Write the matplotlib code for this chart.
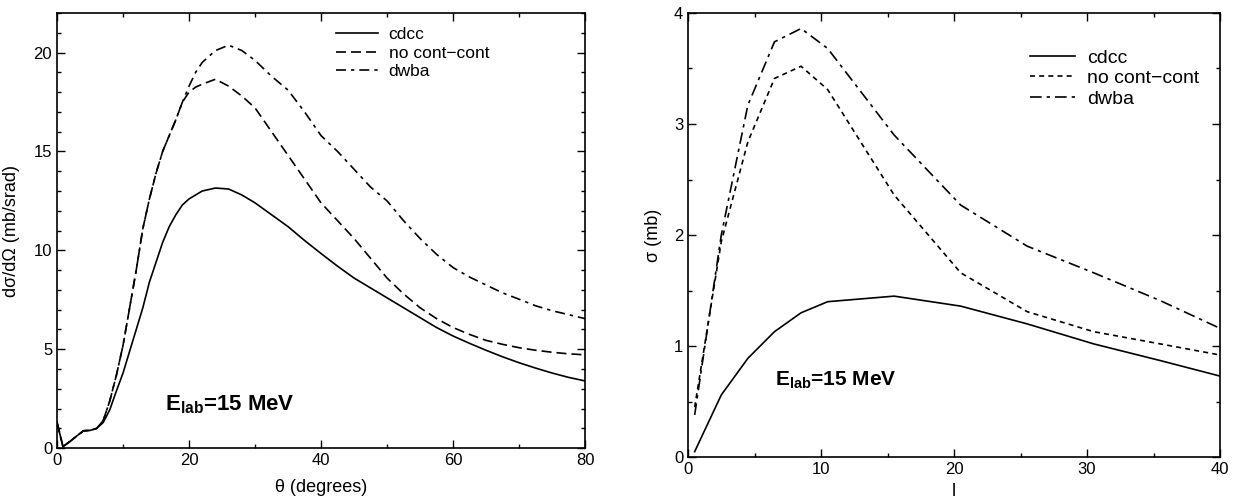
import numpy as np
import matplotlib
matplotlib.use('Agg')
import matplotlib.pyplot as plt
from matplotlib.ticker import MultipleLocator

plt.rcParams['font.family'] = ['Liberation Sans', 'DejaVu Sans']
plt.rcParams['mathtext.fontset'] = 'custom'
plt.rcParams['mathtext.rm'] = 'Liberation Sans'
plt.rcParams['mathtext.bf'] = 'Liberation Sans:bold'

# left panel: angular distribution
theta = [0, 0.9, 2, 3, 4, 5, 6, 7, 8, 9, 10, 11, 12, 13, 14, 15, 16, 17, 18, 19, 20, 21,
         22, 24, 26, 28, 30, 32.5, 35, 37.5, 40, 42.5, 45, 47.5, 50, 52.5, 55, 57.5, 60,
         62.5, 65, 67.5, 70, 72.5, 75, 77.5, 80]
cdcc_ang = [1.3, 0.08, 0.35, 0.62, 0.88, 0.9, 1.0, 1.3, 1.95, 2.9, 3.8, 4.9, 6.0, 7.1, 8.4,
            9.4, 10.4, 11.2, 11.8, 12.3, 12.6, 12.8, 13.0, 13.15, 13.1, 12.8, 12.4, 11.8,
            11.2, 10.5, 9.84, 9.2, 8.6, 8.1, 7.6, 7.1, 6.6, 6.1, 5.67, 5.3, 4.95, 4.62, 4.32,
            4.05, 3.8, 3.58, 3.4]
nocc_ang = [1.3, 0.08, 0.35, 0.62, 0.88, 0.9, 1.0, 1.4, 2.4, 3.7, 5.2, 7.1, 9.0, 11.1, 12.6,
            13.9, 15.0, 15.8, 16.6, 17.5, 18.0, 18.25, 18.4, 18.65, 18.3, 17.8, 17.2, 16.0,
            14.8, 13.6, 12.4, 11.5, 10.6, 9.6, 8.6, 7.8, 7.1, 6.55, 6.1, 5.75, 5.45, 5.25,
            5.08, 4.95, 4.85, 4.77, 4.72]
dwba_ang = [1.3, 0.08, 0.35, 0.62, 0.88, 0.9, 1.0, 1.4, 2.4, 3.7, 5.2, 7.1, 9.0, 11.1, 12.6,
            13.9, 15.0, 15.8, 16.6, 17.5, 18.3, 19.0, 19.5, 20.1, 20.37, 20.1, 19.6, 18.8,
            18.1, 17.0, 15.8, 15.0, 14.1, 13.2, 12.5, 11.5, 10.6, 9.8, 9.13, 8.65, 8.25,
            7.85, 7.53, 7.2, 6.95, 6.75, 6.55]

# right panel: partial-wave distribution
ell = [0.5, 2.5, 4.5, 6.5, 8.5, 10.5, 15.5, 20.5, 25.5, 30.5, 35.5, 40]
cdcc_l = [0.05, 0.56, 0.89, 1.13, 1.30, 1.40, 1.45, 1.36, 1.20, 1.02, 0.87, 0.73]
nocc_l = [0.45, 1.94, 2.84, 3.41, 3.52, 3.31, 2.36, 1.66, 1.31, 1.13, 1.02, 0.92]
dwba_l = [0.38, 2.0, 3.17, 3.74, 3.86, 3.68, 2.90, 2.27, 1.90, 1.66, 1.41, 1.16]

fig = plt.figure(figsize=(12.48, 4.98), dpi=100)
ax1 = fig.add_axes([0.0457, 0.100, 0.4231, 0.874])
ax2 = fig.add_axes([0.5513, 0.082, 0.4263, 0.892])

lw = 1.2
ax1.plot(theta, cdcc_ang, '-', color='black', lw=lw, label='cdcc')
ax1.plot(theta, nocc_ang, color='black', lw=lw, dashes=(6, 3), label='no cont\u2212cont')
ax1.plot(theta, dwba_ang, color='black', lw=lw, dashes=(6, 3, 2, 3), label='dwba')

ax2.plot(ell, cdcc_l, '-', color='black', lw=lw, label='cdcc')
ax2.plot(ell, nocc_l, color='black', lw=lw, dashes=(3, 2.5), label='no cont\u2212cont')
ax2.plot(ell, dwba_l, color='black', lw=lw, dashes=(7, 3, 2, 3), label='dwba')

ax1.set_xlim(0, 80)
ax1.set_ylim(0, 22)
ax1.xaxis.set_major_locator(MultipleLocator(20))
ax1.xaxis.set_minor_locator(MultipleLocator(10))
ax1.yaxis.set_major_locator(MultipleLocator(5))
ax1.yaxis.set_minor_locator(MultipleLocator(1))
ax1.set_xlabel('\u03b8 (degrees)', fontsize=13)
ax1.set_ylabel('d\u03c3/d\u03a9 (mb/srad)', fontsize=13)
ax1.xaxis.set_label_coords(0.5, -0.071)
ax1.yaxis.set_label_coords(-0.07, 0.5)

ax2.set_xlim(0, 40)
ax2.set_ylim(0, 4)
ax2.xaxis.set_major_locator(MultipleLocator(10))
ax2.xaxis.set_minor_locator(MultipleLocator(5))
ax2.yaxis.set_major_locator(MultipleLocator(1))
ax2.yaxis.set_minor_locator(MultipleLocator(0.5))
ax2.set_xlabel('l', fontsize=13)
ax2.set_ylabel('\u03c3 (mb)', fontsize=13)
ax2.xaxis.set_label_coords(0.5, -0.058)
ax2.yaxis.set_label_coords(-0.049, 0.5)

for ax in (ax1, ax2):
    ax.tick_params(which='both', direction='in', top=True, right=True, labelsize=12)
    ax.tick_params(which='major', length=6, width=1)
    ax.tick_params(which='minor', length=3, width=1)
    for s in ax.spines.values():
        s.set_linewidth(1.2)

ax1.legend(loc='upper left', bbox_to_anchor=(0.2692, 0.9458), bbox_transform=fig.transFigure,
           frameon=False, fontsize=12.5, handlelength=2.4, handletextpad=0.63,
           labelspacing=0.2, borderpad=0, borderaxespad=0)
ax2.legend(loc='upper left', bbox_to_anchor=(0.8253, 0.9016), bbox_transform=fig.transFigure,
           frameon=False, fontsize=14, handlelength=2.3, handletextpad=0.62,
           labelspacing=0.15, borderpad=0, borderaxespad=0)

ax1.text(0.2045, 0.101, r'$\mathbf{E_{lab}}$=15 MeV', transform=ax1.transAxes,
         fontsize=16, fontweight='bold', va='center')
ax2.text(0.1635, 0.173, r'$\mathbf{E_{lab}}$=15 MeV', transform=ax2.transAxes,
         fontsize=15, fontweight='bold', va='center')

fig.savefig('out.png', dpi=100)
